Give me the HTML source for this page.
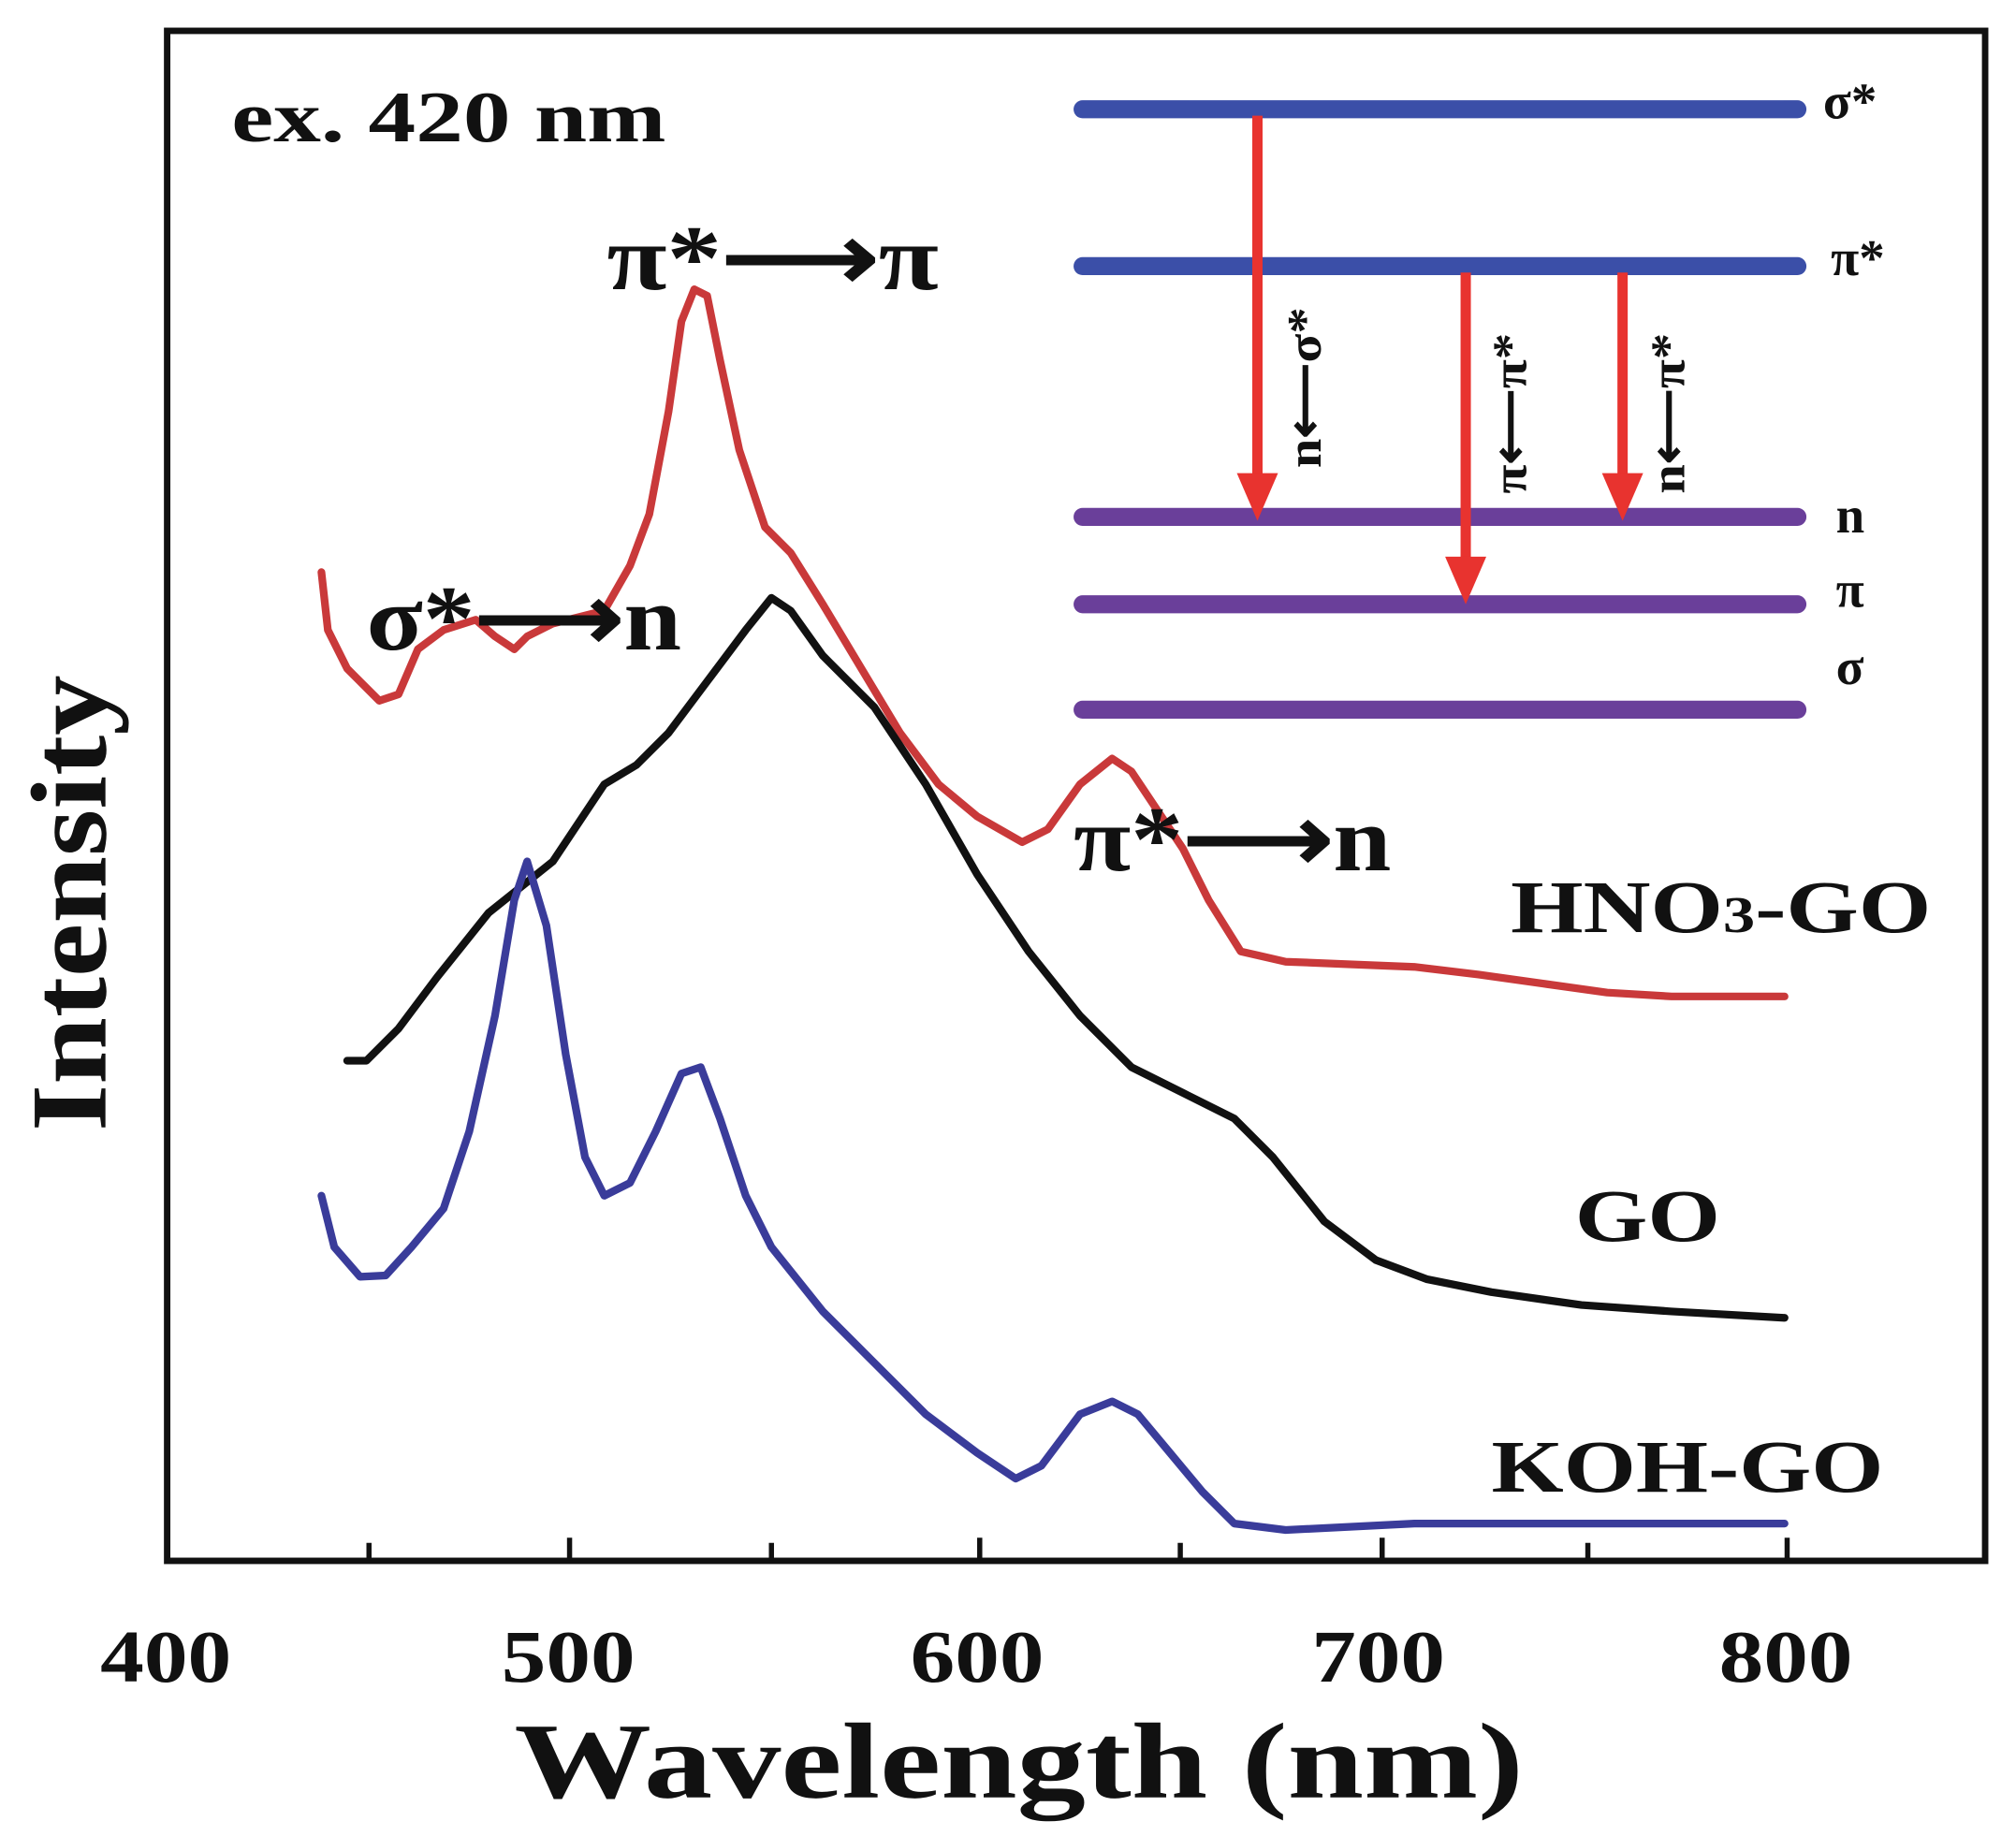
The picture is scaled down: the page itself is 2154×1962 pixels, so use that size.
<!DOCTYPE html>
<html><head><style>html,body{margin:0;padding:0;background:#fff}svg{display:block}</style></head>
<body>
<svg width="2154" height="1962" viewBox="0 0 1568 1428" preserveAspectRatio="none" xmlns="http://www.w3.org/2000/svg" font-family="Liberation Serif, serif" font-weight="bold">
<rect x="0" y="0" width="1568" height="1428" fill="#fff"/>
<rect x="130" y="24" width="1414" height="1190" fill="none" stroke="#111" stroke-width="5"/>
<g stroke="#111" stroke-width="4">
<line x1="287" y1="1214" x2="287" y2="1200"/><line x1="443" y1="1214" x2="443" y2="1196"/>
<line x1="600" y1="1214" x2="600" y2="1200"/><line x1="762" y1="1214" x2="762" y2="1196"/>
<line x1="918" y1="1214" x2="918" y2="1200"/><line x1="1075" y1="1214" x2="1075" y2="1196"/>
<line x1="1235" y1="1214" x2="1235" y2="1200"/><line x1="1390" y1="1214" x2="1390" y2="1196"/>
</g>
<g font-size="58" fill="#111">
<text x="78" y="1308" textLength="102" lengthAdjust="spacingAndGlyphs">400</text>
<text x="390" y="1308" textLength="104" lengthAdjust="spacingAndGlyphs">500</text>
<text x="708" y="1308" textLength="104" lengthAdjust="spacingAndGlyphs">600</text>
<text x="1020" y="1308" textLength="104" lengthAdjust="spacingAndGlyphs">700</text>
<text x="1337" y="1308" textLength="104" lengthAdjust="spacingAndGlyphs">800</text>
</g>
<text x="400" y="1398" font-size="84" textLength="785" lengthAdjust="spacingAndGlyphs" fill="#111">Wavelength (nm)</text>
<text transform="translate(82,880) rotate(-90)" font-size="84" textLength="355" lengthAdjust="spacingAndGlyphs" fill="#111">Intensity</text>
<g fill="none" stroke-width="6" stroke-linejoin="round" stroke-linecap="round">
<polyline stroke="#c9393a" points="250,445 255,490 270,520 295,545 310,540 325,505 345,490 370,482 385,495 400,505 410,495 430,485 450,480 470,475 490,440 505,400 520,320 530,250 540,225 550,230 560,280 575,350 595,410 615,430 640,470 670,520 700,570 730,610 760,635 795,655 815,645 840,610 865,590 880,600 900,630 920,660 940,700 965,740 1000,748 1050,750 1100,752 1150,758 1200,765 1250,772 1300,775 1388,775"/>
<polyline stroke="#111" points="270,825 285,825 310,800 340,760 380,710 430,670 470,610 495,595 520,570 550,530 580,490 600,465 615,475 640,510 680,550 720,610 760,680 800,740 840,790 880,830 920,850 960,870 990,900 1030,950 1070,980 1110,995 1160,1005 1230,1015 1300,1020 1388,1025"/>
<polyline stroke="#3a3c9a" points="250,930 260,970 280,993 300,992 320,970 345,940 365,880 385,790 400,700 410,670 425,720 440,820 455,900 470,930 490,920 510,880 530,835 545,830 560,870 580,930 600,970 640,1020 680,1060 720,1100 760,1130 790,1150 810,1140 840,1100 865,1090 885,1100 910,1130 935,1160 960,1185 1000,1190 1100,1185 1200,1185 1300,1185 1388,1185"/>
</g>
<g stroke-width="14" stroke-linecap="round">
<line x1="842" y1="85" x2="1398" y2="85" stroke="#3b4fa8"/>
<line x1="842" y1="207" x2="1398" y2="207" stroke="#3b4fa8"/>
<line x1="842" y1="402" x2="1398" y2="402" stroke="#6a3f9a"/>
<line x1="842" y1="470" x2="1398" y2="470" stroke="#6a3f9a"/>
<line x1="842" y1="552" x2="1398" y2="552" stroke="#6a3f9a"/>
</g>
<g stroke="#e8332f" stroke-width="8">
<line x1="978" y1="90" x2="978" y2="370"/><line x1="1140" y1="212" x2="1140" y2="435"/><line x1="1262" y1="212" x2="1262" y2="370"/>
</g>
<g fill="#e8332f">
<polygon points="962,368 994,368 978,405"/><polygon points="1124,433 1156,433 1140,470"/><polygon points="1246,368 1278,368 1262,405"/>
</g>
<g font-size="40" fill="#111">
<text x="1418" y="92">σ*</text><text x="1424" y="214">π*</text><text x="1428" y="414">n</text><text x="1428" y="472">π</text><text x="1428" y="532">σ</text>
</g>
<g font-size="38" fill="#111">
<text transform="translate(1027,364) rotate(-90)" textLength="125" lengthAdjust="spacingAndGlyphs">n⟵σ*</text>
<text transform="translate(1187,384) rotate(-90)" textLength="125" lengthAdjust="spacingAndGlyphs">π⟵π*</text>
<text transform="translate(1310,384) rotate(-90)" textLength="125" lengthAdjust="spacingAndGlyphs">n⟵π*</text>
</g>
<g fill="#111">
<text x="180" y="110" font-size="56" textLength="338" lengthAdjust="spacingAndGlyphs">ex. 420 nm</text>
<text x="472" y="225" font-size="72" textLength="258" lengthAdjust="spacingAndGlyphs">π*⟶π</text>
<text x="285" y="505" font-size="72" textLength="245" lengthAdjust="spacingAndGlyphs">σ*⟶n</text>
<text x="835" y="677" font-size="72" textLength="247" lengthAdjust="spacingAndGlyphs">π*⟶n</text>
<text x="1175" y="725" font-size="58" textLength="327" lengthAdjust="spacingAndGlyphs">HNO<tspan font-size="40">3</tspan>-GO</text>
<text x="1225" y="965" font-size="58" textLength="113" lengthAdjust="spacingAndGlyphs">GO</text>
<text x="1160" y="1160" font-size="58" textLength="305" lengthAdjust="spacingAndGlyphs">KOH-GO</text>
</g>
</svg>
</body></html>
